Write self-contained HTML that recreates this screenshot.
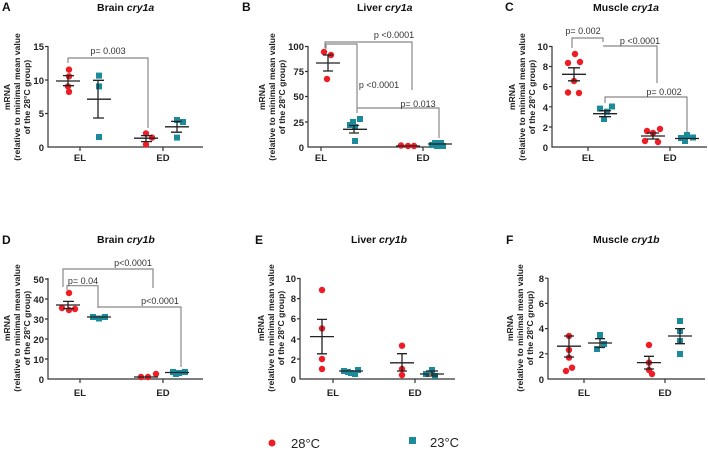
<!DOCTYPE html>
<html><head><meta charset="utf-8"><style>
body{margin:0;background:#fff}
svg{display:block;font-family:"Liberation Sans",Arial,sans-serif}
.t{font-weight:bold;font-size:10.5px;fill:#111}
.k{font-weight:bold;font-size:9.5px;fill:#222}
.yl{font-weight:bold;font-size:8.6px;fill:#222}
.p{font-size:9px;fill:#333}
.ax{stroke:#333;stroke-width:1.2;fill:none}
.br{stroke:#888;stroke-width:1.2;fill:none}
.m{stroke:#222;stroke-width:1.3;fill:none}
.r{fill:#ee1c24}
.q{fill:#1b8b9b}
</style></head><body>
<svg width="708" height="452" viewBox="0 0 708 452">
<!-- ===== A ===== -->
<text x="2" y="11" class="t" style="font-size:12px">A</text>
<text x="97" y="11" class="t">Brain <tspan font-style="italic">cry1a</tspan></text>
<g transform="rotate(-90)"><text class="yl" text-anchor="middle" x="-97" y="10">mRNA</text><text class="yl" text-anchor="middle" x="-97" y="20">(relative to minimal mean value</text><text class="yl" text-anchor="middle" x="-97" y="30">of the 28°C group)</text></g>
<path class="ax" d="M48,46V147H203M45,46.5H48M45,80H48M45,113.5H48"/>
<path class="ax" d="M80,147v4M163,147v4"/>
<g class="k" text-anchor="end"><text x="44" y="50">15</text><text x="44" y="84">10</text><text x="44" y="117">5</text><text x="44" y="151">0</text></g>
<text class="k" x="80" y="161" text-anchor="middle">EL</text><text class="k" x="163" y="161" text-anchor="middle">ED</text>
<path class="br" d="M68,63V58H148V128"/><text class="p" x="108" y="54" text-anchor="middle">p= 0.003</text>
<g class="r"><circle cx="69" cy="69.6" r="3.2"/><circle cx="69" cy="76.3" r="3.2"/><circle cx="68" cy="86.4" r="3.2"/><circle cx="69" cy="91.8" r="3.2"/><circle cx="146" cy="133.5" r="3.2"/><circle cx="152" cy="137.6" r="3.2"/><circle cx="146" cy="144.5" r="3.2"/></g>
<g class="q"><rect x="96" y="72.6" width="6" height="6"/><rect x="96" y="83.4" width="6" height="6"/><rect x="96" y="134" width="6" height="6"/><rect x="174" y="117" width="6" height="6"/><rect x="180" y="119" width="6" height="6"/><rect x="174" y="134.6" width="6" height="6"/></g>
<path class="m" d="M56,81H80M63,85.7H74M68,85.7V75.6M63,75.6H74M87,99.2H111M93,118H104M98,118V80.3M93,80.3H104M134,138.2H158M141,141.6H152M146,141.6V135.6M141,135.6H152M165,126.8H189M171,132.2H182M177,132.2V121.4M171,121.4H182"/>
<!-- ===== B ===== -->
<text x="242" y="11" class="t" style="font-size:12px">B</text>
<text x="357" y="11" class="t">Liver <tspan font-style="italic">cry1a</tspan></text>
<g transform="rotate(-90)"><text class="yl" text-anchor="middle" x="-97" y="265">mRNA</text><text class="yl" text-anchor="middle" x="-97" y="275">(relative to minimal mean value</text><text class="yl" text-anchor="middle" x="-97" y="285">of the 28°C group)</text></g>
<path class="ax" d="M308,46V147H445M305,46.5H308M305,71.5H308M305,96.5H308M305,122H308M321,147v4M423,147v4"/>
<g class="k" text-anchor="end"><text x="304" y="50">100</text><text x="304" y="75">75</text><text x="304" y="100">50</text><text x="304" y="126">25</text><text x="304" y="151">0</text></g>
<text class="k" x="321" y="161" text-anchor="middle">EL</text><text class="k" x="423" y="161" text-anchor="middle">ED</text>
<path class="br" d="M325,48V42H412V90M326,49V44H357V113M357,112V108H439V138"/>
<text class="p" x="394" y="38" text-anchor="middle">p &lt;0.0001</text>
<text class="p" x="379" y="88" text-anchor="middle">p &lt;0.0001</text>
<text class="p" x="418" y="107" text-anchor="middle">p= 0.013</text>
<g class="r"><circle cx="324" cy="52" r="3.2"/><circle cx="331" cy="55" r="3.2"/><circle cx="327" cy="79" r="3.2"/><circle cx="401" cy="145.5" r="3.2"/><circle cx="408" cy="146" r="3.2"/><circle cx="414" cy="146" r="3.2"/></g>
<g class="q"><rect x="350" y="119" width="6" height="6"/><rect x="357" y="116" width="6" height="6"/><rect x="352" y="124" width="6" height="6"/><rect x="347" y="122" width="6" height="6"/><rect x="352" y="138" width="6" height="6"/><rect x="432" y="140" width="6" height="6"/><rect x="438" y="140" width="6" height="6"/><rect x="434" y="143" width="6" height="6"/><rect x="440" y="143" width="6" height="6"/><rect x="429" y="142" width="6" height="6"/></g>
<path class="m" d="M316,63H340M323,71H333M328,71V55M323,55H333M343,129.3H367M349,133H359M354,133V125.5M349,125.5H359M396,146H420M428,144H452"/>
<!-- ===== C ===== -->
<text x="505" y="11" class="t" style="font-size:12px">C</text>
<text x="593" y="11" class="t">Muscle <tspan font-style="italic">cry1a</tspan></text>
<g transform="rotate(-90)"><text class="yl" text-anchor="middle" x="-97" y="515">mRNA</text><text class="yl" text-anchor="middle" x="-97" y="525">(relative to minimal mean value</text><text class="yl" text-anchor="middle" x="-97" y="535">of the 28°C group)</text></g>
<path class="ax" d="M552,46V147H707M549,46.5H552M549,66.5H552M549,86.6H552M549,106.8H552M549,127H552M588,147v4M670,147v4"/>
<g class="k" text-anchor="end"><text x="548" y="50">10</text><text x="548" y="70">8</text><text x="548" y="90">6</text><text x="548" y="111">4</text><text x="548" y="131">2</text><text x="548" y="151">0</text></g>
<text class="k" x="588" y="161" text-anchor="middle">EL</text><text class="k" x="670" y="161" text-anchor="middle">ED</text>
<path class="br" d="M572,48V38H603V42M603,46H657V83M605,103V97H687V138"/>
<text class="p" x="583" y="34" text-anchor="middle">p= 0.002</text>
<text class="p" x="640" y="44" text-anchor="middle">p &lt;0.0001</text>
<text class="p" x="664" y="95" text-anchor="middle">p= 0.002</text>
<g class="r"><circle cx="575" cy="54" r="3.2"/><circle cx="568" cy="63" r="3.2"/><circle cx="580" cy="62" r="3.2"/><circle cx="574" cy="81" r="3.2"/><circle cx="568" cy="92.5" r="3.2"/><circle cx="579" cy="93" r="3.2"/><circle cx="647" cy="131" r="3.2"/><circle cx="660" cy="129" r="3.2"/><circle cx="653" cy="133" r="3.2"/><circle cx="645" cy="141" r="3.2"/><circle cx="658" cy="142" r="3.2"/></g>
<g class="q"><rect x="597" y="105.6" width="6" height="6"/><rect x="609" y="103.5" width="6" height="6"/><rect x="604" y="108.7" width="6" height="6"/><rect x="601" y="116" width="6" height="6"/><rect x="678" y="135" width="6" height="6"/><rect x="684" y="132" width="6" height="6"/><rect x="690" y="134.5" width="6" height="6"/><rect x="682" y="138" width="6" height="6"/></g>
<path class="m" d="M562,74.3H586M568,80.8H580M574,80.8V67.8M568,67.8H580M593,113.7H617M599,116.7H611M605,116.7V110.7M599,110.7H611M641,136H665M647,139H659M653,139V133M647,133H659M675,138.5H699"/>
<!-- ===== D ===== -->
<text x="2" y="244" class="t" style="font-size:12px">D</text>
<text x="97" y="243" class="t">Brain <tspan font-style="italic">cry1b</tspan></text>
<g transform="rotate(-90)"><text class="yl" text-anchor="middle" x="-328" y="10">mRNA</text><text class="yl" text-anchor="middle" x="-328" y="20">(relative to minimal mean value</text><text class="yl" text-anchor="middle" x="-328" y="30">of the 28°C group)</text></g>
<path class="ax" d="M48,278V379H203M45,279H48M45,299H48M45,319H48M45,339H48M45,359H48M80,379v4M163,379v4"/>
<g class="k" text-anchor="end"><text x="44" y="283">50</text><text x="44" y="303">40</text><text x="44" y="323">30</text><text x="44" y="343">20</text><text x="44" y="363">10</text><text x="44" y="383">0</text></g>
<text class="k" x="80" y="396" text-anchor="middle">EL</text><text class="k" x="163" y="396" text-anchor="middle">ED</text>
<path class="br" d="M63,287V269H153V288M67,290V285.7H98V308M98,307H181V367"/>
<text class="p" x="133" y="266" text-anchor="middle">p&lt;0.0001</text>
<text class="p" x="83" y="284" text-anchor="middle">p= 0.04</text>
<text class="p" x="160" y="304" text-anchor="middle">p&lt;0.0001</text>
<g class="r"><circle cx="69" cy="293" r="3.2"/><circle cx="62" cy="308" r="3.2"/><circle cx="69" cy="310" r="3.2"/><circle cx="75" cy="309" r="3.2"/><circle cx="141" cy="377" r="3.2"/><circle cx="148" cy="377" r="3.2"/><circle cx="156" cy="374" r="3.2"/></g>
<g class="q"><rect x="90" y="314" width="6" height="6"/><rect x="96" y="315.5" width="6" height="6"/><rect x="102" y="314" width="6" height="6"/><rect x="170" y="369" width="6" height="6"/><rect x="176" y="370" width="6" height="6"/><rect x="182" y="369" width="6" height="6"/><rect x="173" y="371" width="6" height="6"/></g>
<path class="m" d="M56,305H80M63,308.6H74M68,308.6V301.4M63,301.4H74M87,317H111M134,377H158M165,372.5H189"/>
<!-- ===== E ===== -->
<text x="255" y="244" class="t" style="font-size:12px">E</text>
<text x="351" y="243" class="t">Liver <tspan font-style="italic">cry1b</tspan></text>
<g transform="rotate(-90)"><text class="yl" text-anchor="middle" x="-328" y="264">mRNA</text><text class="yl" text-anchor="middle" x="-328" y="274">(relative to minimal mean value</text><text class="yl" text-anchor="middle" x="-328" y="284">of the 28°C group)</text></g>
<path class="ax" d="M300,278V379H455M297,278.5H300M297,298.6H300M297,318.8H300M297,339H300M297,359H300M333,379v4M415,379v4"/>
<g class="k" text-anchor="end"><text x="296" y="282">10</text><text x="296" y="302">8</text><text x="296" y="322">6</text><text x="296" y="343">4</text><text x="296" y="363">2</text><text x="296" y="383">0</text></g>
<text class="k" x="333" y="396" text-anchor="middle">EL</text><text class="k" x="415" y="396" text-anchor="middle">ED</text>
<g class="r"><circle cx="322" cy="290" r="3.2"/><circle cx="322" cy="328.5" r="3.2"/><circle cx="322" cy="359" r="3.2"/><circle cx="322" cy="369" r="3.2"/><circle cx="402" cy="345.7" r="3.2"/><circle cx="402" cy="369" r="3.2"/><circle cx="402" cy="375" r="3.2"/></g>
<g class="q"><rect x="341" y="368" width="6" height="6"/><rect x="345" y="369" width="6" height="6"/><rect x="355" y="367" width="6" height="6"/><rect x="348" y="370" width="6" height="6"/><rect x="352" y="371" width="6" height="6"/><rect x="429" y="367" width="6" height="6"/><rect x="423" y="371" width="6" height="6"/><rect x="432" y="373" width="6" height="6"/></g>
<path class="m" d="M310,336.6H334M317,353.8H327M322,353.8V319.4M317,319.4H327M339,371H363M390,362.8H414M397,371H407M402,371V353.7M397,353.7H407M420,374H444M426,376H438M432,376V371M426,371H438"/>
<!-- ===== F ===== -->
<text x="506" y="244" class="t" style="font-size:12px">F</text>
<text x="593" y="243" class="t">Muscle <tspan font-style="italic">cry1b</tspan></text>
<g transform="rotate(-90)"><text class="yl" text-anchor="middle" x="-328" y="513">mRNA</text><text class="yl" text-anchor="middle" x="-328" y="523">(relative to minimal mean value</text><text class="yl" text-anchor="middle" x="-328" y="533">of the 28°C group)</text></g>
<path class="ax" d="M548,278V379H705M545,278.2H548M545,303.4H548M545,328.6H548M545,353.8H548M584,379v4M665,379v4"/>
<g class="k" text-anchor="end"><text x="544" y="282">8</text><text x="544" y="307">6</text><text x="544" y="332">4</text><text x="544" y="358">2</text><text x="544" y="383">0</text></g>
<text class="k" x="584" y="396" text-anchor="middle">EL</text><text class="k" x="665" y="396" text-anchor="middle">ED</text>
<g class="r"><circle cx="569" cy="336" r="3.2"/><circle cx="569" cy="350" r="3.2"/><circle cx="569" cy="357.6" r="3.2"/><circle cx="572" cy="367.7" r="3.2"/><circle cx="566" cy="371" r="3.2"/><circle cx="649" cy="345" r="3.2"/><circle cx="649" cy="362.6" r="3.2"/><circle cx="649" cy="370" r="3.2"/><circle cx="652" cy="374" r="3.2"/></g>
<g class="q"><rect x="597" y="332" width="6" height="6"/><rect x="601" y="341" width="6" height="6"/><rect x="594" y="346" width="6" height="6"/><rect x="677" y="318" width="6" height="6"/><rect x="677" y="328" width="6" height="6"/><rect x="677" y="338" width="6" height="6"/><rect x="677" y="351" width="6" height="6"/></g>
<path class="m" d="M557,346.2H581M564,357H574M569,357V336M564,336H574M588,343H612M595,347.5H605M600,347.5V338.7M595,338.7H605M637,362.6H661M644,369H654M649,369V356.3M644,356.3H654M668,336H692M675,343.7H685M680,343.7V328.6M675,328.6H685"/>
<!-- legend -->
<circle cx="272" cy="443" r="3.5" class="r"/>
<text x="291" y="448" style="font-size:13px;fill:#222">28°C</text>
<rect x="409" y="437" width="7" height="7" class="q"/>
<text x="430" y="447" style="font-size:13px;fill:#222">23°C</text>
</svg>
</body></html>
